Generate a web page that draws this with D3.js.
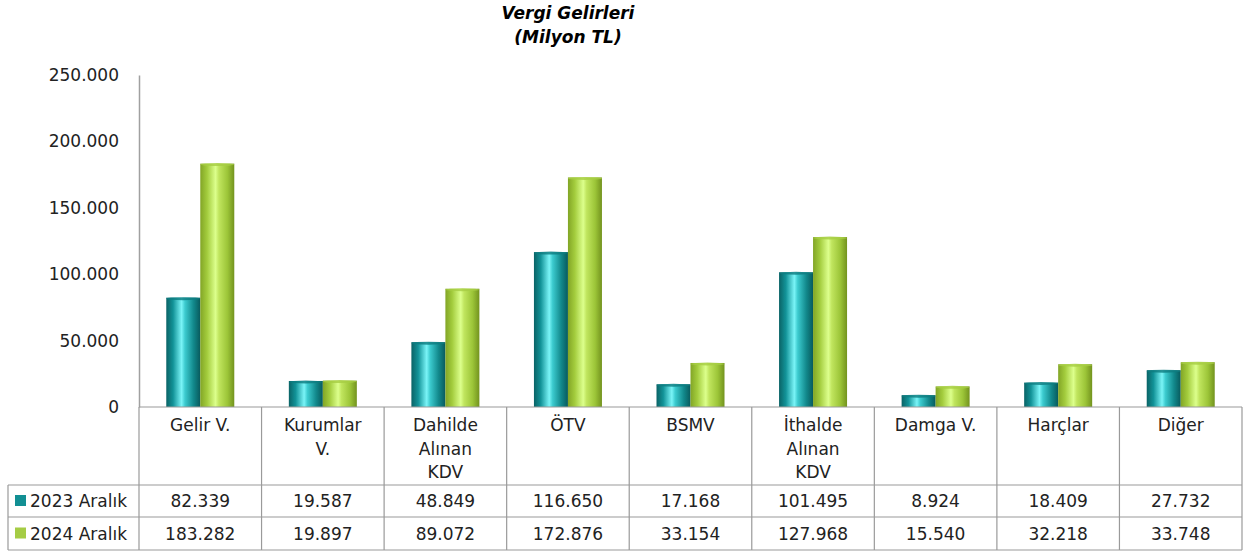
<!DOCTYPE html>
<html><head><meta charset="utf-8">
<script src="https://cdn.jsdelivr.net/npm/d3@7"></script>
<style>body{margin:0;background:#fff}svg{display:block}</style>
</head><body>
<script>
const categories = [["Gelir V."],["Kurumlar","V."],["Dahilde","Alınan","KDV"],["ÖTV"],["BSMV"],["İthalde","Alınan","KDV"],["Damga V."],["Harçlar"],["Diğer"]];
const seriesNames = ["2023 Aralık","2024 Aralık"];
const values2023 = [82339,19587,48849,116650,17168,101495,8924,18409,27732];
const values2024 = [183282,19897,89072,172876,33154,127968,15540,32218,33748];
const yTicks = [0,50000,100000,150000,200000,250000];
const titleLines = ["Vergi Gelirleri","(Milyon TL)"];

const W=1251,H=554;
const font="'DejaVu Sans', sans-serif";
const fs=17;
const svg=d3.select("body").append("svg").attr("width",W).attr("height",H);
const defs=svg.append("defs");
function grad(id,stops){const g=defs.append("linearGradient").attr("id",id).attr("x1","0").attr("x2","1").attr("y1","0").attr("y2","0");
 stops.forEach(s=>g.append("stop").attr("offset",s[0]).attr("stop-color",s[1]));}
grad("gT",[[0,"#0a6366"],[0.2,"#129398"],[0.45,"#7af4f7"],[0.55,"#3ccbcf"],[0.8,"#12898c"],[1,"#085a5d"]]);
grad("gG",[[0,"#82a526"],[0.2,"#a3cc3d"],[0.45,"#dcff8c"],[0.55,"#c0e55e"],[0.8,"#9cc538"],[1,"#73931e"]]);
const fills=["url(#gT)","url(#gG)"];
const capFills=["#0e7c80","#a6cd43"];
const legendFills=["#128f93","#a5cc45"];

const x0=139,x1=1242,yTop=75,yZero=407;
const x=d3.scaleBand().domain(d3.range(categories.length)).range([x0,x1]).padding(0);
const y=d3.scaleLinear().domain([0,250000]).range([yZero,yTop]);
const fmt=v=>d3.format(",")(v).replace(/,/g,".");

// title
svg.append("g").selectAll("text").data(titleLines).join("text")
 .attr("x",568).attr("y",(d,i)=>19+i*24).attr("text-anchor","middle")
 .attr("font-family",font).attr("font-size",17).attr("font-weight","bold").attr("font-style","italic").text(d=>d);

// y axis
const yAxis=d3.axisLeft(y).tickValues(yTicks).tickSize(0).tickPadding(20).tickFormat(fmt);
const ga=svg.append("g").attr("transform",`translate(${x0},0)`).call(yAxis);
ga.select(".domain").attr("stroke","#a0a0a0").attr("stroke-width",1.5);
ga.selectAll("text").attr("font-family",font).attr("font-size",fs).attr("fill","#222");

// bars
const bw=34;
const series=[values2023,values2024];
series.forEach((vals,si)=>{
 const g=svg.append("g");
 g.selectAll("rect").data(vals).join("rect")
  .attr("x",(d,i)=>x(i)+x.bandwidth()/2-bw+si*bw).attr("width",bw)
  .attr("y",d=>y(d)).attr("height",d=>yZero-y(d)).attr("fill",fills[si]);
 g.selectAll("ellipse").data(vals).join("ellipse")
  .attr("cx",(d,i)=>x(i)+x.bandwidth()/2-bw/2+si*bw).attr("cy",d=>y(d)+1)
  .attr("rx",bw/2).attr("ry",1.5).attr("fill",capFills[si]).attr("opacity",0.8);
});

// table
const rowTops=[407,485,517,550];
const lc="#9a9a9a";
const tg=svg.append("g").attr("stroke",lc).attr("stroke-width",1.2);
tg.append("line").attr("x1",x0).attr("x2",x1).attr("y1",rowTops[0]).attr("y2",rowTops[0]);
[1,2,3].forEach(r=>tg.append("line").attr("x1",8).attr("x2",x1).attr("y1",rowTops[r]).attr("y2",rowTops[r]));
d3.range(categories.length+1).forEach(i=>{
 const xx=i<categories.length?x(i):x1;
 tg.append("line").attr("x1",xx).attr("x2",xx).attr("y1",rowTops[0]).attr("y2",rowTops[3]);
});
tg.append("line").attr("x1",8).attr("x2",8).attr("y1",rowTops[1]).attr("y2",rowTops[3]);

// category labels
const cg=svg.append("g").attr("font-family",font).attr("font-size",fs).attr("fill","#222").attr("text-anchor","middle");
categories.forEach((lines,i)=>{
 lines.forEach((t,j)=>cg.append("text").attr("x",x(i)+x.bandwidth()/2).attr("y",rowTops[0]+24+j*23.5).text(t));
});
// values + legend
series.forEach((vals,si)=>{
 const cy=(rowTops[si+1]+rowTops[si+2])/2+6;
 vals.forEach((v,i)=>cg.append("text").attr("x",x(i)+x.bandwidth()/2).attr("y",cy).text(fmt(v)));
 svg.append("rect").attr("x",15).attr("y",cy-12).attr("width",11).attr("height",11).attr("fill",legendFills[si]);
 svg.append("text").attr("x",30).attr("y",cy).attr("font-family",font).attr("font-size",fs).attr("fill","#222").text(seriesNames[si]);
});
</script>
</body></html>
